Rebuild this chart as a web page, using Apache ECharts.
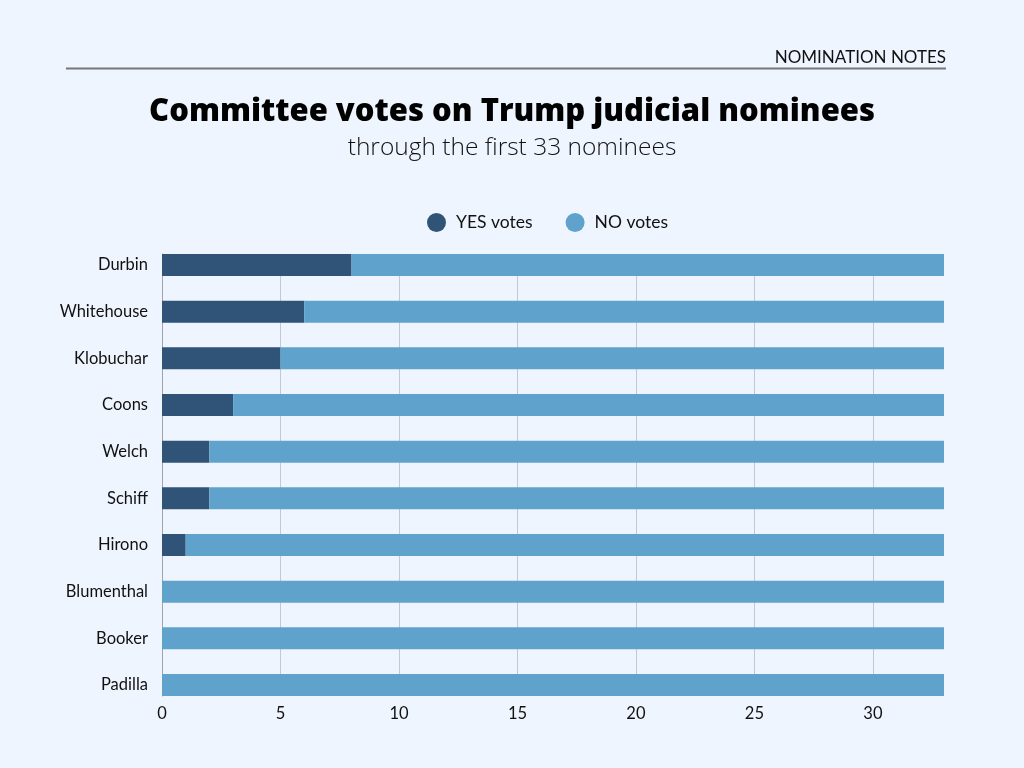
<!DOCTYPE html>
<html>
<head>
<meta charset="utf-8">
<script src="https://cdn.jsdelivr.net/npm/echarts@6/dist/echarts.min.js"></script>
<style>
html,body{margin:0;padding:0;background:#eff5fe;}
#c{width:1024px;height:768px;}
</style>
</head>
<body>
<div id="c"></div>
<script>
const senators = ['Durbin','Whitehouse','Klobuchar','Coons','Welch','Schiff','Hirono','Blumenthal','Booker','Padilla'];
const yesVotes = [8,6,5,3,2,2,1,0,0,0];
const noVotes = [25,27,28,30,31,31,32,33,33,33];
const xTicks = [0,5,10,15,20,25,30];

const chart = echarts.init(document.getElementById('c'));
const font = 'Lato, "Noto Sans", sans-serif';
const titleFont = '"Open Sans", Lato, sans-serif';
chart.setOption({
  backgroundColor: '#eff5fe',
  textStyle: {fontFamily: font},
  title: [{
    text: 'Committee votes on Trump judicial nominees',
    left: 'center', top: 92,
    textStyle: {fontFamily: titleFont, fontSize: 31, fontWeight: 800, color: '#000'}
  },{
    text: 'through the first 33 nominees',
    left: 'center', top: 131,
    textStyle: {fontFamily: titleFont, fontSize: 24.5, fontWeight: 300, color: '#111'}
  }],
  graphic: [{
    type: 'line', shape: {x1: 66, y1: 68.5, x2: 946, y2: 68.5},
    style: {stroke: '#777', lineWidth: 2}
  },{
    type: 'text', right: 78, top: 49,
    style: {text: 'NOMINATION NOTES', fontFamily: font, fontSize: 17, fill: '#111'}
  }],
  legend: {
    top: 208, left: 422, itemGap: 33,
    icon: 'circle', itemWidth: 19, itemHeight: 19,
    textStyle: {fontFamily: font, fontSize: 17.5, color: '#111', padding: [0, 0, 0, 5]},
    data: ['YES votes','NO votes']
  },
  grid: [
    {left: 162, right: 80, top: 241.67, bottom: 59.67},
    {left: 162, right: 151, top: 254, bottom: 72}
  ],
  xAxis: [{
    type: 'value', gridIndex: 0, min: 0, max: 33, interval: 5,
    axisLine: {show: false}, axisTick: {show: false}, splitLine: {show: false},
    axisLabel: {
      fontFamily: font, fontSize: 16.5, color: '#111', margin: -3,
      customValues: xTicks
    }
  },{
    type: 'value', gridIndex: 1, min: 0, max: 30, interval: 5,
    axisLine: {show: false}, axisTick: {show: false}, axisLabel: {show: false},
    splitLine: {show: true, lineStyle: {color: '#c4c8d2', width: 1}}
  }],
  yAxis: [{
    type: 'category', gridIndex: 0, data: senators, inverse: true,
    axisLine: {show: false}, axisTick: {show: false},
    axisLabel: {fontFamily: font, fontSize: 16.5, color: '#111', margin: 14}
  },{
    type: 'value', gridIndex: 1, min: 0, max: 1,
    axisLabel: {show: false}, axisTick: {show: false}, splitLine: {show: false},
    axisLine: {show: true, lineStyle: {color: '#a0a4ae', width: 1}}
  }],
  series: [{
    name: 'YES votes', type: 'bar', stack: 'v', data: yesVotes,
    xAxisIndex: 0, yAxisIndex: 0, barWidth: 22,
    itemStyle: {color: '#305378'}
  },{
    name: 'NO votes', type: 'bar', stack: 'v', data: noVotes,
    xAxisIndex: 0, yAxisIndex: 0, barWidth: 22,
    itemStyle: {color: '#5fa3cd'}
  }]
});
</script>
</body>
</html>
